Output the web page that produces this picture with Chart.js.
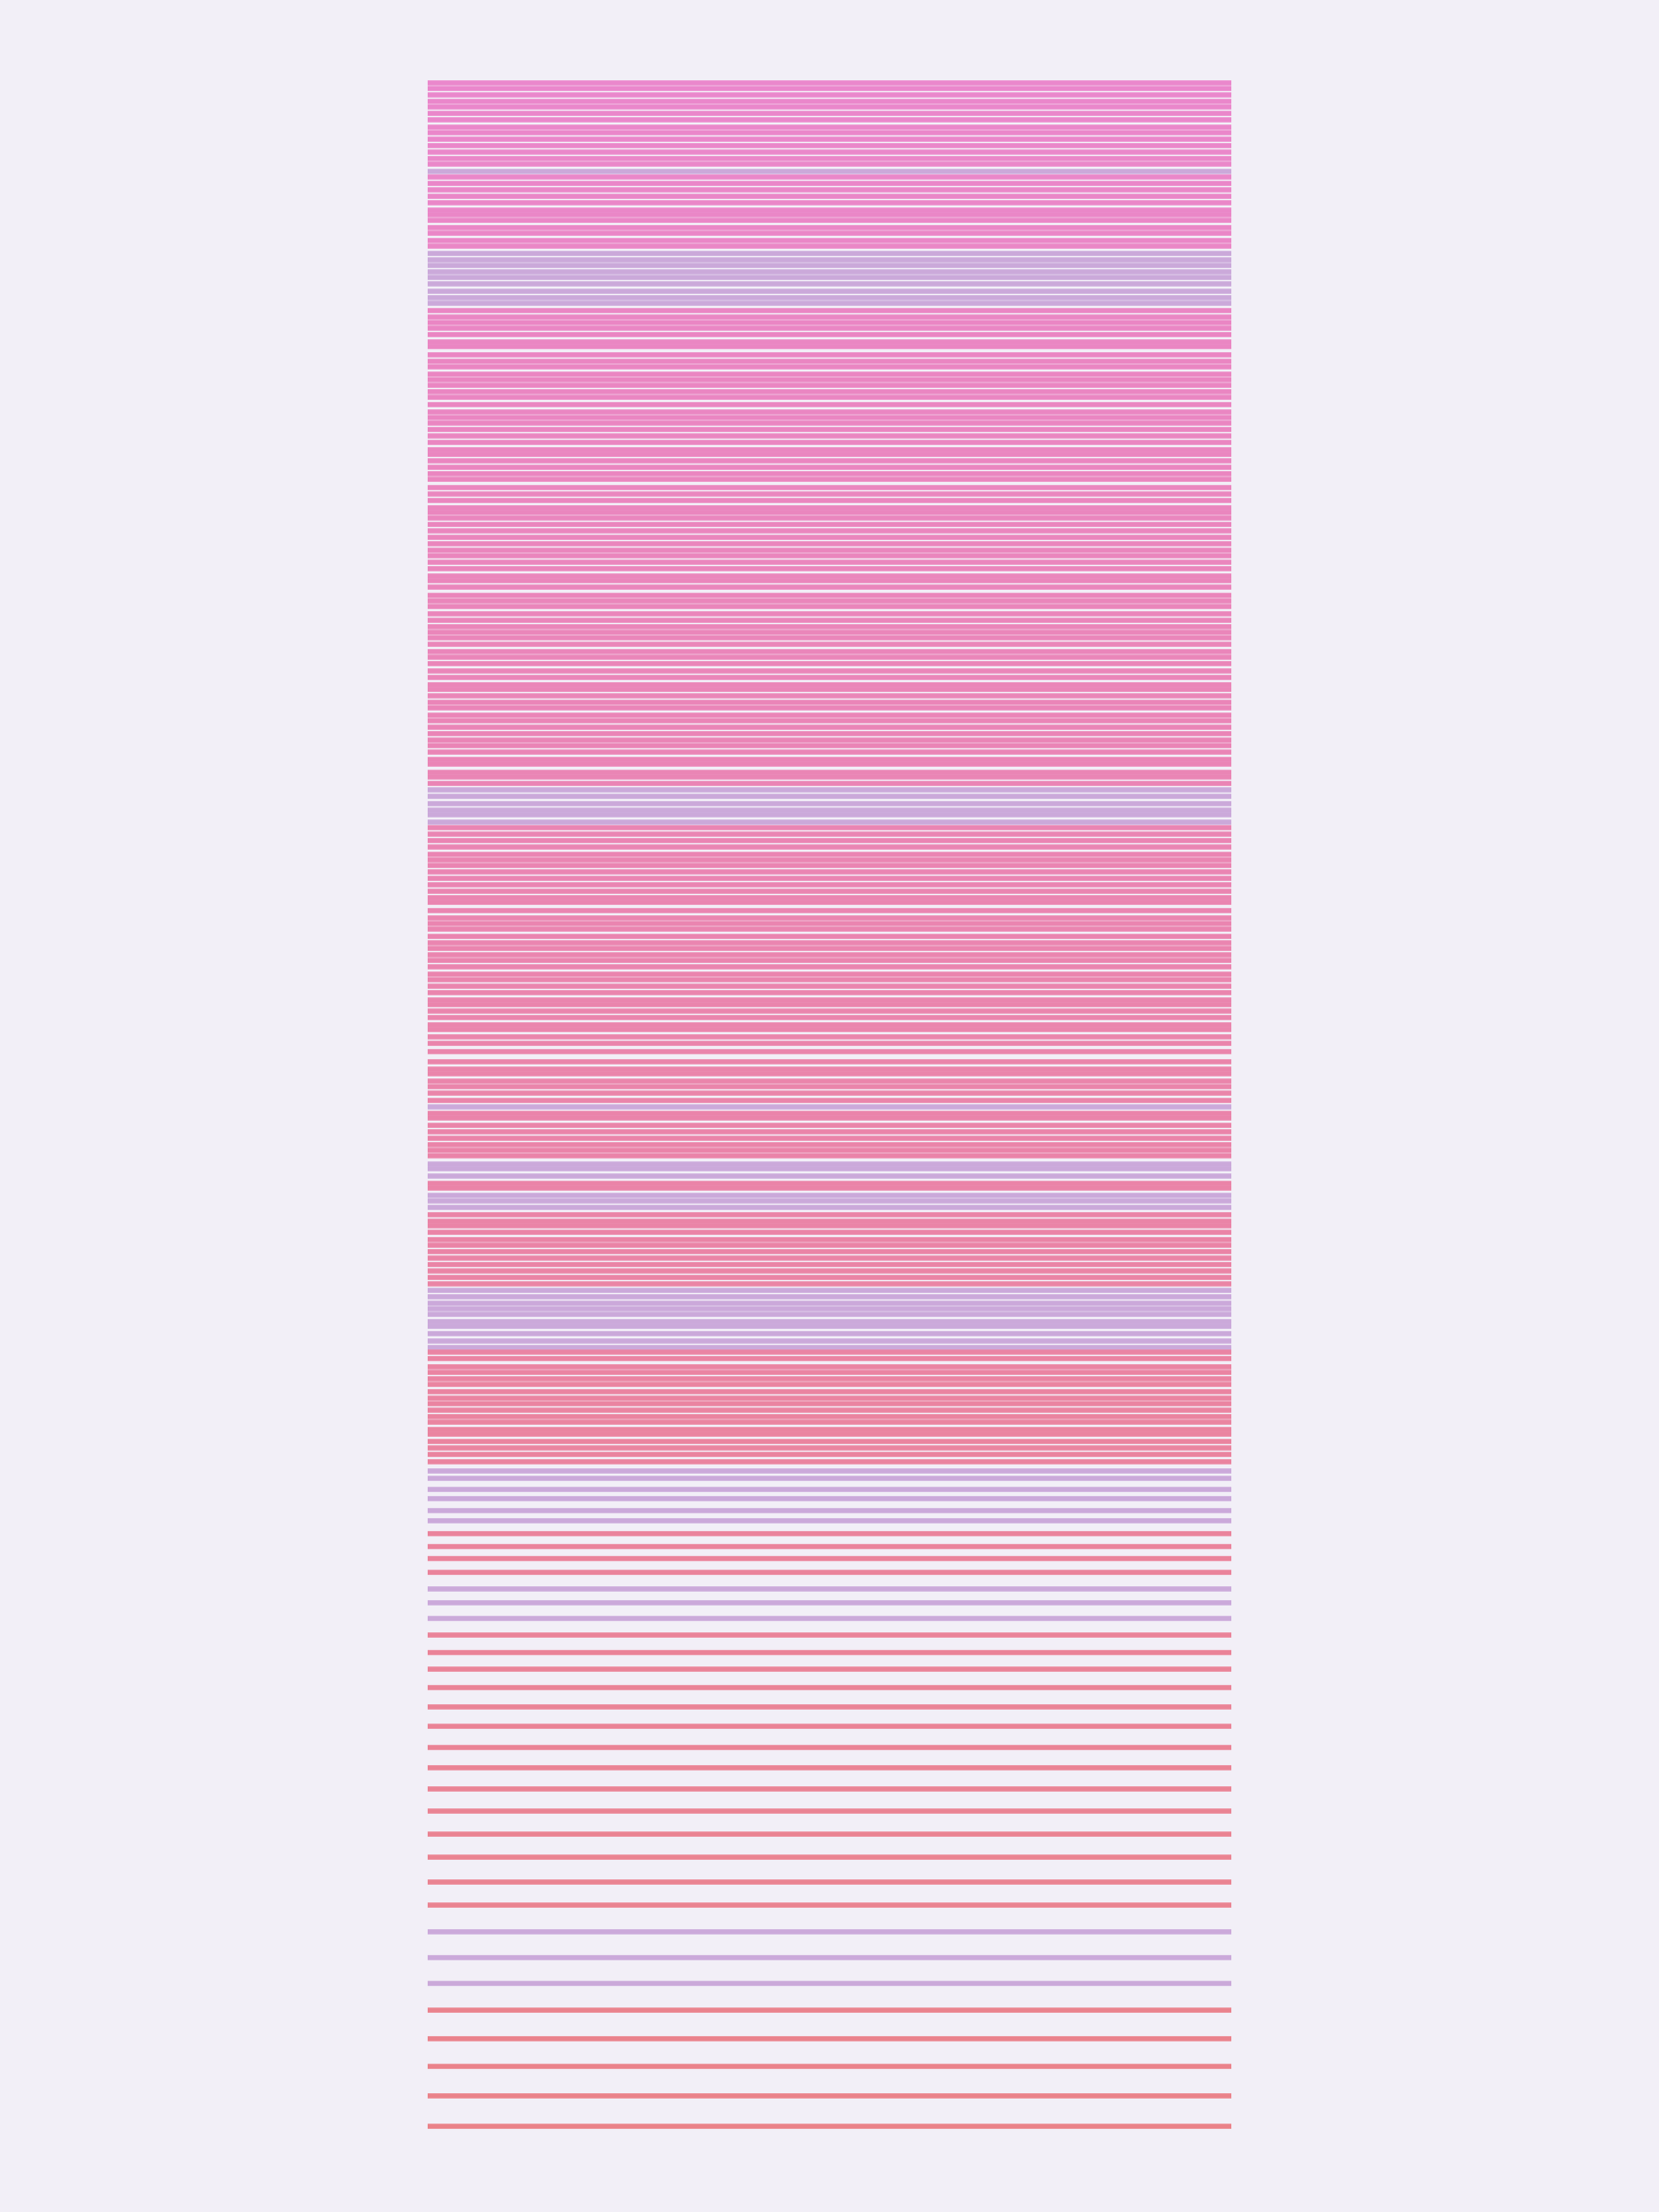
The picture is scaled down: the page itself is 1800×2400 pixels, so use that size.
<!DOCTYPE html>
<html lang="en">
<head>
<meta charset="utf-8"/>
<title>Stripes</title>
<script src="https://cdn.jsdelivr.net/npm/chart.js"></script>
<style>
    html, body { margin: 0; padding: 0; background: #f2eff7; }
    canvas { display: block; }
  </style>
</head>
<body>
<canvas id="stripeChart" width="1800" height="2400"></canvas>
<script>
    // depth of each stripe (0 = top of the sheet)
    const pinkLines = [
      90, 96, 103, 110, 116, 123, 130, 138, 144, 151, 158, 165, 172, 178,
      192, 199, 206, 213, 220, 228, 233, 239, 247, 253, 261, 267,
      337, 344, 350, 356, 363, 371, 376, 385, 392, 398, 406, 412, 418, 425, 431, 439,
      447, 453, 459, 466, 473, 480, 488, 493, 500, 507, 514, 520, 529, 536, 543, 551,
      556, 562, 569, 576, 583, 590, 597, 603, 610, 617, 625, 630, 637, 646, 652, 658,
      666, 673, 680, 686, 692, 699, 707, 713, 720, 728, 735, 743, 748, 755, 762, 768,
      776, 782, 789, 796, 803, 809, 816, 824, 829, 838, 843, 850,
      898, 905, 912, 919, 927, 933, 939, 946, 953, 960, 967, 974, 979, 988, 996, 1002,
      1008, 1016, 1023, 1029, 1036, 1042, 1049, 1057, 1063, 1070, 1077, 1085, 1090,
      1097, 1104, 1112, 1117, 1125, 1132, 1141, 1152, 1160, 1165, 1173, 1179, 1186, 1194,
      1208, 1213, 1221, 1228, 1235, 1242, 1248, 1254, 1284, 1289,
      1318, 1325, 1330, 1337, 1345, 1351, 1358, 1365, 1372, 1379, 1386, 1393,
      1467, 1474, 1483, 1489, 1496, 1502, 1510, 1517, 1523, 1530, 1537, 1543, 1551, 1556,
      1564, 1571, 1578, 1586, 1664, 1678, 1691, 1706, 1774, 1793, 1811, 1831, 1852,
      1873, 1896, 1918, 1941, 1965, 1990, 2015, 2042, 2067, 2181, 2212, 2242, 2274, 2307
    ];
    const lavenderLines = [
      186, 275, 282, 288, 295, 301, 308, 316, 323, 329,
      857, 864, 872, 879, 884, 892, 1201, 1263, 1268, 1276, 1297, 1303, 1310,
      1400, 1407, 1414, 1420, 1426, 1434, 1439, 1447, 1455, 1462,
      1596, 1604, 1616, 1626, 1639, 1650, 1724, 1739, 1756, 2096, 2124, 2152
    ];

    const topPink = [233, 130, 202];
    const bottomRed = [233, 125, 132];
    const lavender = 'rgba(201, 166, 217, 0.96)';

    function pinkAt(y) {
      const t = Math.min(1, Math.max(0, (y - 90) / (2307 - 90)));
      const c = topPink.map((v, i) => Math.round(v + (bottomRed[i] - v) * t));
      return `rgba(${c[0]}, ${c[1]}, ${c[2]}, 0.96)`;
    }

    function stripe(y, color) {
      return {
        data: [{ x: 0, y: y }, { x: 1, y: y }],
        borderColor: color,
        borderWidth: 5.5,
        borderCapStyle: 'butt',
        pointRadius: 0,
        clip: false
      };
    }

    const datasets = [];
    pinkLines.forEach(y => datasets.push(stripe(y, pinkAt(y))));
    lavenderLines.forEach(y => datasets.push(stripe(y, lavender)));

    new Chart(document.getElementById('stripeChart').getContext('2d'), {
      type: 'line',
      data: { datasets: datasets },
      options: {
        responsive: false,
        animation: false,
        events: [],
        layout: { padding: { left: 464, right: 464, top: 0, bottom: 0 } },
        plugins: { legend: { display: false }, tooltip: { enabled: false } },
        scales: {
          x: { type: 'linear', min: 0, max: 1, display: false },
          y: { type: 'linear', min: 0, max: 2400, reverse: true, display: false }
        }
      }
    });
  </script>
</body>
</html>
